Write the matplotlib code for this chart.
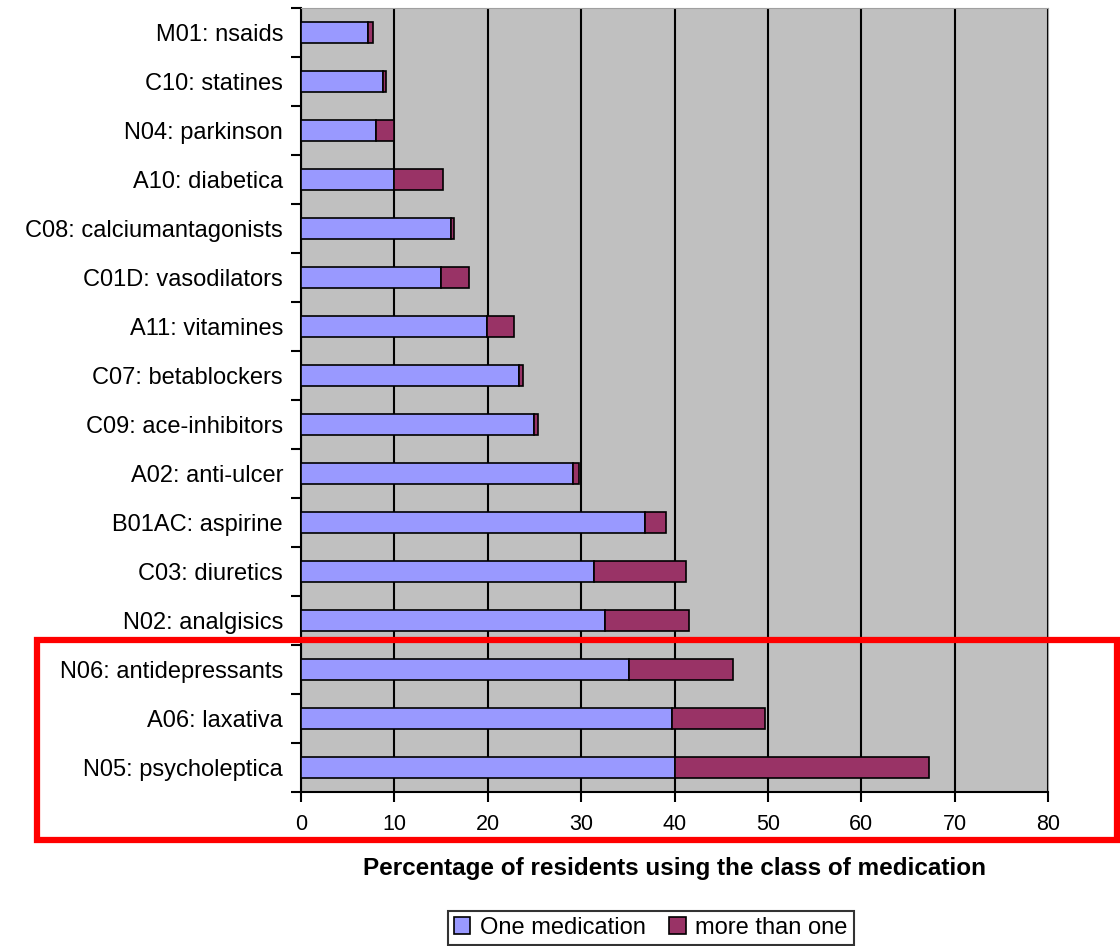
import matplotlib.pyplot as plt
from matplotlib.patches import Rectangle
import numpy as np

plt.rcParams['font.family'] = ['Liberation Sans', 'DejaVu Sans']

# Medication classes, bottom to top
classes = ['N05: psycholeptica', 'A06: laxativa', 'N06: antidepressants',
           'N02: analgisics', 'C03: diuretics', 'B01AC: aspirine',
           'A02: anti-ulcer', 'C09: ace-inhibitors', 'C07: betablockers',
           'A11: vitamines', 'C01D: vasodilators', 'C08: calciumantagonists',
           'A10: diabetica', 'N04: parkinson', 'C10: statines', 'M01: nsaids']
one_med = [40.0, 39.7, 35.1, 32.6, 31.4, 36.8, 29.1, 24.9, 23.3,
           19.9, 15.0, 16.1, 10.0, 8.0, 8.8, 7.2]
more_than_one = [27.2, 10.0, 11.2, 8.9, 9.8, 2.3, 0.7, 0.5, 0.5,
                 2.9, 3.0, 0.3, 5.2, 2.0, 0.3, 0.5]

fig = plt.figure(figsize=(11.2, 9.46), dpi=100)
ax = fig.add_axes([0.2688, 0.1628, 0.6670, 0.8287])
ax.set_facecolor('#C0C0C0')

y = np.arange(len(classes))
ax.barh(y, one_med, height=0.42, color='#9999FF', edgecolor='black',
        linewidth=1.2, label='One medication', zorder=3)
ax.barh(y, more_than_one, left=one_med, height=0.42, color='#993366',
        edgecolor='black', linewidth=1.2, label='more than one', zorder=3)

ax.set_xlim(0, 80)
ax.set_ylim(-0.5, len(classes) - 0.5)
ax.set_xticks(range(0, 81, 10))
ax.xaxis.grid(True, color='black', linewidth=1.5, zorder=1)
ax.set_yticks(y)
ax.set_yticklabels(classes, fontsize=17)
ax.set_yticks(np.arange(-0.5, len(classes)), minor=True)
ax.tick_params(axis='y', which='major', length=0, pad=13)
ax.tick_params(axis='y', which='minor', length=7, width=1.5, color='black')
ax.tick_params(axis='x', length=7, width=1.5, labelsize=15.5, pad=9)

for side in ['left', 'bottom']:
    ax.spines[side].set_linewidth(1.5)
for side in ['top', 'right']:
    ax.spines[side].set_color('#A0A0A0')

ax.set_xlabel('Percentage of residents using the class of medication',
              fontsize=17.5, fontweight='bold', labelpad=16)

leg = fig.legend(loc='center', bbox_to_anchor=(0.581, 0.019), ncol=2,
                 fontsize=17, frameon=True, fancybox=False, edgecolor='black',
                 handlelength=0.7, handleheight=0.7, handletextpad=0.4,
                 columnspacing=1.0, borderpad=0.25)
leg.get_frame().set_linewidth(1.5)

# Highlight box around the three most used classes
fig.patches.append(Rectangle((37 / 1120, 1 - 840 / 946), 1080 / 1120, 200 / 946,
                             transform=fig.transFigure, fill=False,
                             edgecolor='#FF0000', linewidth=4.5))

fig.savefig('out.png', dpi=100)
